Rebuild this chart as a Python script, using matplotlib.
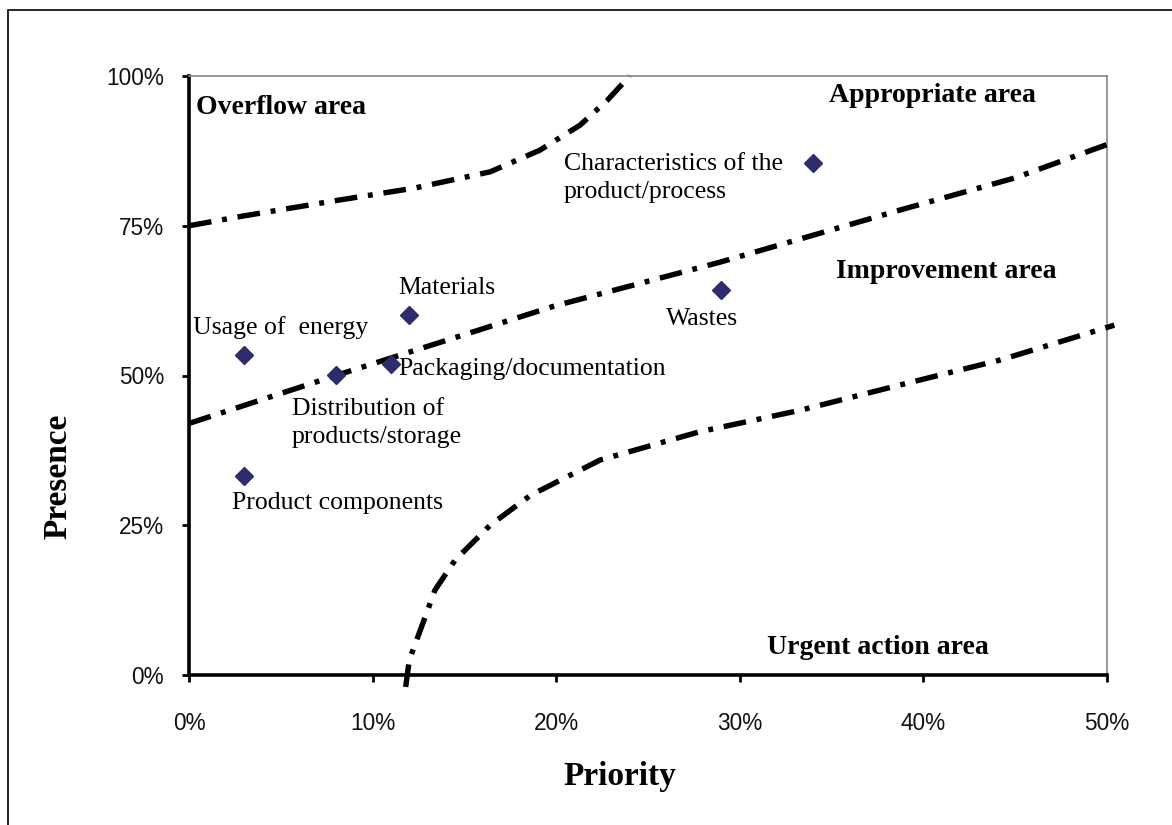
import matplotlib
matplotlib.use("Agg")
import matplotlib.pyplot as plt
from matplotlib.patches import Rectangle
from matplotlib.ticker import PercentFormatter

# Data
point_names = ["Usage of  energy", "Product components", "Distribution of\nproducts/storage",
               "Packaging/documentation", "Materials", "Wastes",
               "Characteristics of the\nproduct/process"]
priority = [0.03, 0.03, 0.08, 0.11, 0.12, 0.29, 0.34]
presence = [0.534, 0.332, 0.501, 0.519, 0.601, 0.643, 0.855]

# boundary curves
upper_x = [0.0, 0.029, 0.082, 0.123, 0.164, 0.191, 0.213, 0.228, 0.240]
upper_y = [0.75, 0.766, 0.793, 0.813, 0.840, 0.876, 0.918, 0.960, 1.0]
mid_x = [0.0, 0.08, 0.199, 0.289, 0.387, 0.45, 0.504]
mid_y = [0.42, 0.50, 0.616, 0.689, 0.776, 0.83, 0.89]
low_x = [0.118, 0.120, 0.126, 0.134, 0.145, 0.164, 0.186, 0.224, 0.278, 0.333, 0.387, 0.442, 0.504]
low_y = [-0.02, 0.025, 0.075, 0.142, 0.192, 0.25, 0.30, 0.359, 0.406, 0.442, 0.484, 0.526, 0.584]

x_ticks = [0, 0.1, 0.2, 0.3, 0.4, 0.5]
y_ticks = [0, 0.25, 0.5, 0.75, 1.0]

area_labels = ["Overflow area", "Appropriate area", "Improvement area", "Urgent action area"]

W, H = 1172, 825
fig = plt.figure(figsize=(W / 100, H / 100), dpi=100)
fig.patches.append(Rectangle((8 / W, -0.05), 1.2, 1 - 10 / H + 0.05, transform=fig.transFigure,
                             fill=False, edgecolor="black", linewidth=1.2))

L, R, T, B = 189, 1107, 76, 675
ax = fig.add_axes([L / W, 1 - B / H, (R - L) / W, (B - T) / H])
ax.set_xlim(0, 0.5)
ax.set_ylim(0, 1)


def px(x, y):
    return ((x - L) / (R - L) * 0.5, (B - y) / (B - T))


serif = "Liberation Serif"

for xs, ys in [(upper_x, upper_y), (mid_x, mid_y), (low_x, low_y)]:
    ln, = ax.plot(xs, ys, color="black", linewidth=3.9, clip_on=False, zorder=3)
    ln.set_dashes([4.2, 2.0, 0.9, 2.0])

ax.plot(priority, presence, linestyle="none", marker="D", markersize=9,
        color="#2E2A6E", zorder=4)

# point labels
label_pos = [(193, 328), (232, 503), (292, 423), (398, 369), (398, 288), (666, 319), (564, 178)]
for name, (lx, ly) in zip(point_names, label_pos):
    tx, ty = px(lx, ly)
    ax.text(tx, ty, name, family=serif, fontsize=18.5, ha="left", va="center",
            linespacing=1.38, zorder=5)

area_pos = [(196, 108), (829, 95), (836, 271), (767, 648)]
for name, (lx, ly) in zip(area_labels, area_pos):
    tx, ty = px(lx, ly)
    ax.text(tx, ty, name, family=serif, fontsize=20, fontweight="bold", ha="left",
            va="center", zorder=5)

ax.set_xticks(x_ticks)
ax.set_yticks(y_ticks)
ax.xaxis.set_major_formatter(PercentFormatter(1.0, decimals=0))
ax.yaxis.set_major_formatter(PercentFormatter(1.0, decimals=0))
for lab in ax.get_xticklabels() + ax.get_yticklabels():
    lab.set_family("Liberation Sans")
    lab.set_fontsize(16.3)
    lab.set_color("#111111")
ax.tick_params(axis="x", direction="out", length=5, width=2, pad=22)
ax.tick_params(axis="y", direction="out", length=5, width=2, pad=13)

ax.spines["left"].set_linewidth(2.6)
ax.spines["bottom"].set_linewidth(2.6)
ax.spines["top"].set_color("#888888")
ax.spines["right"].set_color("#888888")
ax.spines["top"].set_linewidth(1.2)
ax.spines["right"].set_linewidth(1.2)

fig.text(620 / W, 1 - 777 / H, "Priority", family=serif, fontsize=24, fontweight="bold",
         ha="center", va="center")
fig.text(58 / W, 1 - 476 / H, "Presence", family=serif, fontsize=24, fontweight="bold",
         ha="center", va="center", rotation=90)

fig.savefig("out.png", dpi=100)
